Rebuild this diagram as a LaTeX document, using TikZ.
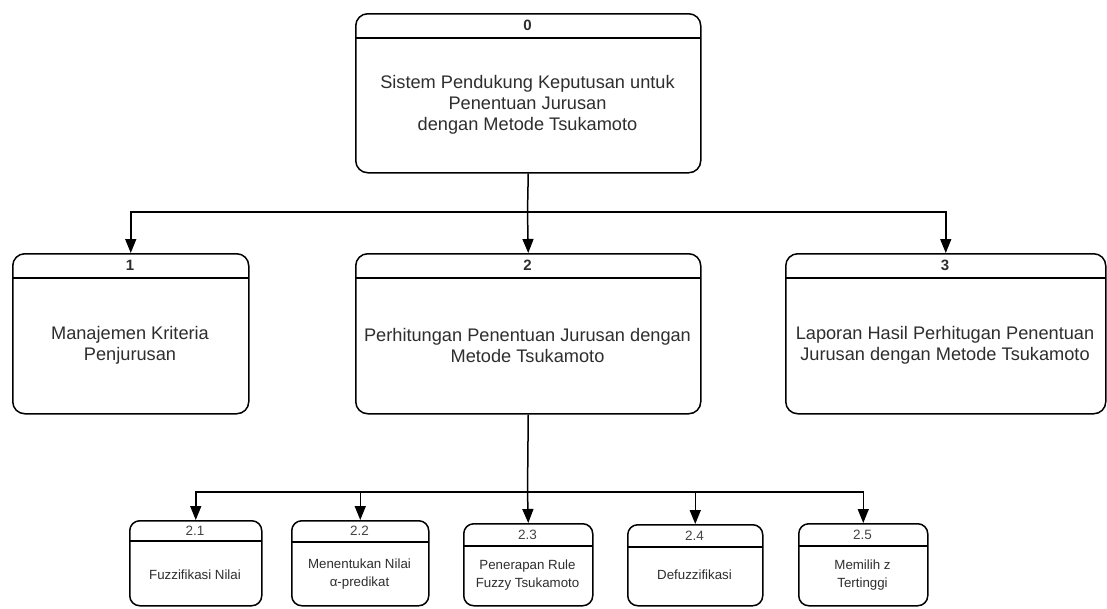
\documentclass[tikz,border=0pt]{standalone}
\usepackage{fontspec}
\setmainfont{Liberation Sans}
\usetikzlibrary{arrows.meta}
\definecolor{txt}{HTML}{2E2E2E}
\definecolor{numtxt}{HTML}{444444}
\begin{document}
\begin{tikzpicture}[x=1pt,y=-1pt,
  proc/.style={draw=black, line width=1.5pt, inner sep=0pt, anchor=north west},
  bigproc/.style={proc, rounded corners=12pt},
  smallproc/.style={proc, rounded corners=10pt},
  bigtxt/.style={text=txt, font=\fontsize{18.2}{21}\selectfont, align=center},
  smalltxt/.style={text=txt, font=\fontsize{13.3}{17.5}\selectfont, align=center},
  bignum/.style={text=txt, font=\bfseries\fontsize{15}{17}\selectfont},
  smallnum/.style={text=numtxt, font=\fontsize{13.5}{15}\selectfont},
  ln/.style={line width=1.5pt},
  arr/.style={line width=1.5pt, -{Triangle[length=14pt,width=11pt]}}
]
\useasboundingbox[fill=white] (0,0) rectangle (1107,608);

% ---- level 0
\node[bigproc, minimum width=345pt, minimum height=159pt] (p0) at (355,13) {};
\draw[ln] (355,38) -- (700,38);
\node[bignum] (h0) at (527.5,25.5) {0};
\node[bigtxt] (t0) at (527.5,105) {Sistem Pendukung Keputusan untuk\\Penentuan Jurusan\\dengan Metode Tsukamoto};

% ---- level 1
\node[bigproc, minimum width=236pt, minimum height=160pt] (p1) at (12,253) {};
\draw[ln] (12,278) -- (248,278);
\node[bignum] (h1) at (130,265.5) {1};
\node[bigtxt] (t1) at (130,345) {Manajemen Kriteria\\Penjurusan};

\node[bigproc, minimum width=345pt, minimum height=160pt] (p2) at (355,253) {};
\draw[ln] (355,278) -- (700,278);
\node[bignum] (h2) at (527.5,265.5) {2};
\node[bigtxt] (t2) at (527.5,345) {Perhitungan Penentuan Jurusan dengan\\Metode Tsukamoto};

\node[bigproc, minimum width=320pt, minimum height=160pt] (p3) at (785,253) {};
\draw[ln] (785,278) -- (1105,278);
\node[bignum] (h3) at (945,265.5) {3};
\node[bigtxt] (t3) at (945,345) {Laporan Hasil Perhitugan Penentuan\\Jurusan dengan Metode Tsukamoto};

% ---- level 2
\node[smallproc, minimum width=132pt, minimum height=85pt] (p21) at (129,520) {};
\draw[ln] (129,541) -- (261,541);
\node[smallnum] (h21) at (195,530.5) {2.1};
\node[smalltxt] (t21) at (195,575) {Fuzzifikasi Nilai};

\node[smallproc, minimum width=137pt, minimum height=85pt] (p22) at (291,520) {};
\draw[ln] (291,542) -- (428,542);
\node[smallnum] (h22) at (359.5,531) {2.2};
\node[smalltxt] (t22) at (359.5,574) {Menentukan Nilai\\α-predikat};

\node[smallproc, minimum width=129pt, minimum height=82pt] (p23) at (463,523) {};
\draw[ln] (463,546) -- (592,546);
\node[smallnum] (h23) at (527.5,534.5) {2.3};
\node[smalltxt] (t23) at (527.5,575) {Penerapan Rule\\Fuzzy Tsukamoto};

\node[smallproc, minimum width=135pt, minimum height=81pt] (p24) at (627,524) {};
\draw[ln] (627,547) -- (762,547);
\node[smallnum] (h24) at (694.5,535.5) {2.4};
\node[smalltxt] (t24) at (694.5,575) {Defuzzifikasi};

\node[smallproc, minimum width=129pt, minimum height=82pt] (p25) at (798,523) {};
\draw[ln] (798,546) -- (927,546);
\node[smallnum] (h25) at (862.5,534.5) {2.5};
\node[smalltxt] (t25) at (862.5,575) {Memilih z\\Tertinggi};

% ---- connectors
\coordinate (j0) at (527.5,212);
\draw[ln] (p0.south) -- (j0);
\draw[arr] (j0) -| (p1.north);
\draw[arr] (j0) -| (p3.north);
\draw[arr] (j0) -- (p2.north);

\coordinate (j2) at (527.5,492);
\draw[ln] (p2.south) -- (j2);
\draw[arr] (j2) -- (p23.north);
\draw[arr] (j2) -| (p21.north);
\draw[arr] (j2) -| (p22.north);
\draw[arr] (j2) -| (p24.north);
\draw[arr] (j2) -| (p25.north);
\end{tikzpicture}
\end{document}
